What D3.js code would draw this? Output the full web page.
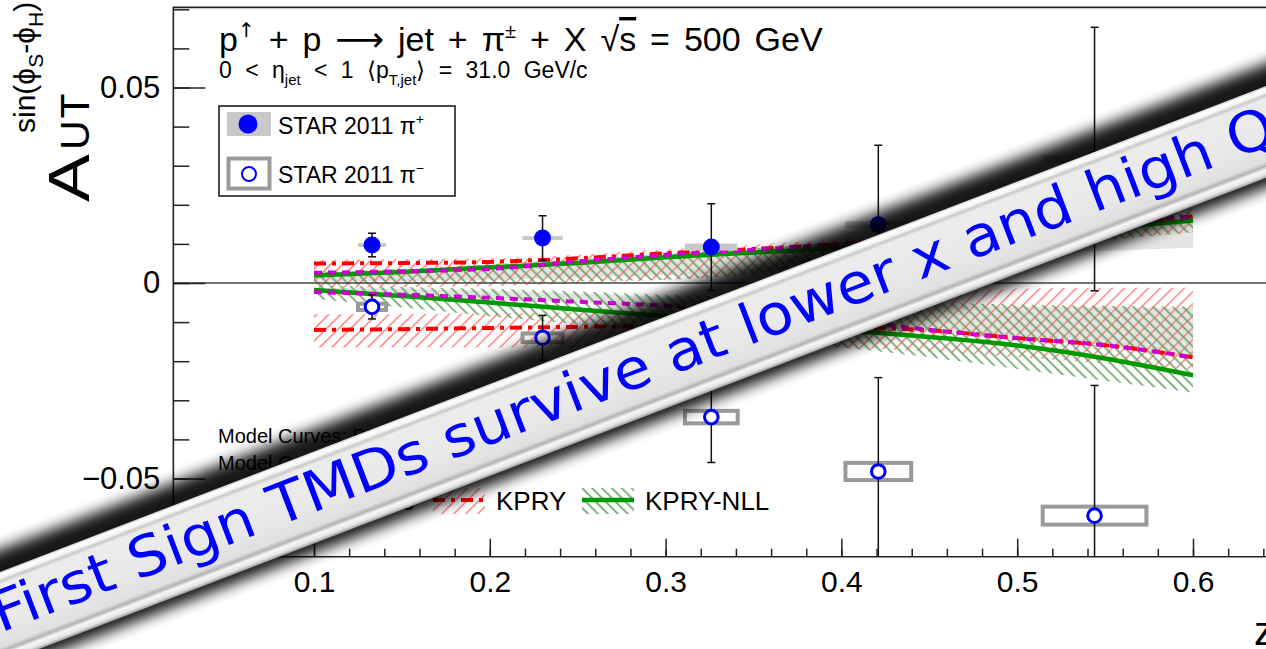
<!DOCTYPE html>
<html><head><meta charset="utf-8">
<script src="https://cdn.jsdelivr.net/npm/d3@7"></script>
<style>
html,body{margin:0;padding:0;background:#fff;overflow:hidden}
svg{display:block}
text{font-family:"Liberation Sans",Arial,Helvetica,sans-serif;fill:#000}
</style></head><body>
<svg id="chart" width="1266" height="649"></svg>
<script>
// ---- measured Collins asymmetries (STAR 2011) ----
const zPoints      = [0.133, 0.230, 0.326, 0.421, 0.544];
const aPiPlus      = [0.0097, 0.0115, 0.0092, 0.0149, 0.0317];
const statPiPlus   = [0.0030, 0.0057, 0.0111, 0.0203, 0.0337];
const sysPiPlus    = [0.0005, 0.0005, 0.0009, 0.0009, 0.0010];
const aPiMinus     = [-0.0061, -0.0140, -0.0343, -0.0482, -0.0595];
const statPiMinus  = [0.0031, 0.0057, 0.0116, 0.0240, 0.0333];
const sysPiMinus   = [0.0008, 0.0011, 0.0016, 0.0022, 0.0023];
const zSysHalf     = [0.0080, 0.0114, 0.0150, 0.0187, 0.0295];

// ---- model curves ----
const zModel = [0.10, 0.15, 0.20, 0.25, 0.30, 0.35, 0.40, 0.45, 0.50, 0.55, 0.60];
// KPRY
const kpryPlus      = [0.0050, 0.0051, 0.0054, 0.0063, 0.0076, 0.0087, 0.0100, 0.0115, 0.0132, 0.0150, 0.0170];
const kpryMinus     = [-0.0120, -0.0118, -0.0115, -0.0112, -0.0110, -0.0111, -0.0114, -0.0121, -0.0141, -0.0159, -0.0190];
const kpryPlusHi    = [0.0060, 0.0061, 0.0063, 0.0072, 0.0086, 0.0098, 0.0112, 0.0130, 0.0150, 0.0170, 0.0190];
const kpryPlusLo    = [-0.0012, -0.0010, -0.0008, -0.0001, 0.0008, 0.0022, 0.0040, 0.0062, 0.0088, 0.0110, 0.0130];
const kpryMinusHi   = [-0.0080, -0.0079, -0.0078, -0.0075, -0.0068, -0.0055, -0.0040, -0.0025, -0.0015, -0.0012, -0.0012];
const kpryMinusLo   = [-0.0165, -0.0165, -0.0165, -0.0163, -0.0160, -0.0160, -0.0165, -0.0175, -0.0190, -0.0205, -0.0220];
// KPRY-NLL
const nllPlus       = [0.0019, 0.0028, 0.0040, 0.0051, 0.0066, 0.0078, 0.0090, 0.0105, 0.0120, 0.0140, 0.0160];
const nllMinus      = [-0.0018, -0.0033, -0.0050, -0.0068, -0.0085, -0.0102, -0.0120, -0.0138, -0.0160, -0.0193, -0.0236];
const nllPlusHi     = [0.0027, 0.0036, 0.0048, 0.0060, 0.0073, 0.0088, 0.0104, 0.0120, 0.0140, 0.0160, 0.0180];
const nllPlusLo     = [-0.0005, -0.0003, 0.0000, 0.0004, 0.0008, 0.0022, 0.0040, 0.0062, 0.0090, 0.0110, 0.0130];
const nllMinusHi    = [-0.0005, -0.0010, -0.0015, -0.0022, -0.0030, -0.0038, -0.0045, -0.0050, -0.0055, -0.0058, -0.0060];
const nllMinusLo    = [-0.0040, -0.0062, -0.0085, -0.0105, -0.0125, -0.0145, -0.0165, -0.0190, -0.0220, -0.0250, -0.0280];
// DMP+2013
const dmpPlus       = [0.0026, 0.0030, 0.0036, 0.0055, 0.0072, 0.0085, 0.0100, 0.0115, 0.0135, 0.0152, 0.0170];
const dmpMinus      = [-0.0023, -0.0030, -0.0038, -0.0048, -0.0058, -0.0075, -0.0095, -0.0120, -0.0141, -0.0159, -0.0190];
const dmpPlusHi     = [0.0029, 0.0033, 0.0039, 0.0058, 0.0075, 0.0088, 0.0103, 0.0118, 0.0138, 0.0155, 0.0173];
const dmpPlusLo     = [0.0003, 0.0005, 0.0008, 0.0014, 0.0020, 0.0030, 0.0040, 0.0055, 0.0072, 0.0082, 0.0090];
const dmpMinusHi    = [-0.0012, -0.0015, -0.0020, -0.0027, -0.0035, -0.0042, -0.0050, -0.0056, -0.0060, -0.0062, -0.0064];
const dmpMinusLo    = [-0.0026, -0.0033, -0.0041, -0.0051, -0.0061, -0.0078, -0.0098, -0.0123, -0.0144, -0.0162, -0.0193];

// ---- axis ticks ----
const xTickValues = [0.1, 0.2, 0.3, 0.4, 0.5, 0.6];
const xTickLabels = ["0.1", "0.2", "0.3", "0.4", "0.5", "0.6"];
const yTickValues = [-0.05, 0, 0.05];
const yTickLabels = ["\u22120.05", "0", "0.05"];

const svg = d3.select("#chart");
const x = d3.scaleLinear().domain([0.1, 0.6]).range([314, 1193]);
const y = d3.scaleLinear().domain([-0.05, 0.05]).range([478.5, 87.5]);
const xL = x(0.02), xR = x(0.72), yT = y(0.0705), yB = y(-0.07);

const defs = svg.append("defs");
defs.append("clipPath").attr("id", "plotClip").append("rect")
  .attr("x", xL).attr("y", yT).attr("width", xR - xL).attr("height", yB - yT);

function hatch(id, angle, color, gap, width) {
  const p = defs.append("pattern").attr("id", id).attr("patternUnits", "userSpaceOnUse")
    .attr("width", gap).attr("height", gap).attr("patternTransform", `rotate(${angle})`);
  p.append("line").attr("x1", gap / 2).attr("y1", 0).attr("x2", gap / 2).attr("y2", gap)
    .attr("stroke", color).attr("stroke-width", width);
}
hatch("hatchRed", 45, "#ff6b6b", 8.5, 1.3);
hatch("hatchGreen", -45, "#5f9f5f", 7, 1.6);

const bandData = (lo, hi) => zModel.map((z, i) => ({ z, lo: lo[i], hi: hi[i] }));
const lineData = v => zModel.map((z, i) => ({ z, v: v[i] }));
const area = d3.area().x(d => x(d.z)).y0(d => y(d.lo)).y1(d => y(d.hi)).curve(d3.curveMonotoneX);
const line = d3.line().x(d => x(d.z)).y(d => y(d.v)).curve(d3.curveMonotoneX);

const plot = svg.append("g").attr("clip-path", "url(#plotClip)");

// uncertainty bands
[[dmpPlusLo, dmpPlusHi], [dmpMinusLo, dmpMinusHi]].forEach(([lo, hi]) =>
  plot.append("path").attr("d", area(bandData(lo, hi))).attr("fill", "#e4e4e4"));
[[kpryPlusLo, kpryPlusHi], [kpryMinusLo, kpryMinusHi]].forEach(([lo, hi]) =>
  plot.append("path").attr("d", area(bandData(lo, hi))).attr("fill", "url(#hatchRed)"));
[[nllPlusLo, nllPlusHi], [nllMinusLo, nllMinusHi]].forEach(([lo, hi]) =>
  plot.append("path").attr("d", area(bandData(lo, hi))).attr("fill", "url(#hatchGreen)"));

// zero line
plot.append("line").attr("x1", xL).attr("x2", xR).attr("y1", y(0)).attr("y2", y(0))
  .attr("stroke", "#444").attr("stroke-width", 1.5);

// central curves
[kpryPlus, kpryMinus].forEach(v => plot.append("path").attr("d", line(lineData(v)))
  .attr("fill", "none").attr("stroke", "#ff0000").attr("stroke-width", 4).attr("stroke-dasharray", "12,6,4,6"));
[nllPlus, nllMinus].forEach(v => plot.append("path").attr("d", line(lineData(v)))
  .attr("fill", "none").attr("stroke", "#009900").attr("stroke-width", 4.5));
[dmpPlus, dmpMinus].forEach(v => plot.append("path").attr("d", line(lineData(v)))
  .attr("fill", "none").attr("stroke", "#cc00cc").attr("stroke-width", 4).attr("stroke-dasharray", "8,6"));

// systematic boxes
zPoints.forEach((z, i) => {
  plot.append("rect").attr("x", x(z - zSysHalf[i])).attr("width", x(z + zSysHalf[i]) - x(z - zSysHalf[i]))
    .attr("y", y(aPiPlus[i] + sysPiPlus[i])).attr("height", Math.max(3, y(aPiPlus[i] - sysPiPlus[i]) - y(aPiPlus[i] + sysPiPlus[i])))
    .attr("fill", "#c8c8c8");
  plot.append("rect").attr("x", x(z - zSysHalf[i])).attr("width", x(z + zSysHalf[i]) - x(z - zSysHalf[i]))
    .attr("y", y(aPiMinus[i] + sysPiMinus[i])).attr("height", y(aPiMinus[i] - sysPiMinus[i]) - y(aPiMinus[i] + sysPiMinus[i]))
    .attr("fill", "none").attr("stroke", "#9a9a9a").attr("stroke-width", 4);
});

// statistical error bars
function errBar(z, a, e) {
  const cx = x(z), y1 = y(a + e), y2 = y(a - e);
  plot.append("line").attr("x1", cx).attr("x2", cx).attr("y1", y1).attr("y2", y2).attr("stroke", "#111").attr("stroke-width", 1.5);
  [y1, y2].forEach(yy => plot.append("line").attr("x1", cx - 4).attr("x2", cx + 4).attr("y1", yy).attr("y2", yy)
    .attr("stroke", "#111").attr("stroke-width", 1.5));
}
zPoints.forEach((z, i) => { errBar(z, aPiPlus[i], statPiPlus[i]); errBar(z, aPiMinus[i], statPiMinus[i]); });

// markers
plot.selectAll("circle.plus").data(zPoints).join("circle").attr("class", "plus")
  .attr("cx", d => x(d)).attr("cy", (d, i) => y(aPiPlus[i])).attr("r", 8.5).attr("fill", "#0000ff");
plot.selectAll("circle.minus").data(zPoints).join("circle").attr("class", "minus")
  .attr("cx", d => x(d)).attr("cy", (d, i) => y(aPiMinus[i])).attr("r", 6.8)
  .attr("fill", "#fff").attr("stroke", "#0000ff").attr("stroke-width", 3);

// axes
const yMinor = d3.range(-7, 8).map(k => k / 100);
const xMinor = d3.range(1, 36).map(k => k * 0.02);
const styleAxis = g => { g.select(".domain").remove(); g.selectAll("line").attr("stroke", "#222").attr("stroke-width", 1.5); };
svg.append("g").attr("transform", `translate(${xL},0)`)
  .call(d3.axisLeft(y).tickValues(yMinor).tickSize(-16).tickFormat("")).call(styleAxis);
const yAx = svg.append("g").attr("transform", `translate(${xL},0)`)
  .call(d3.axisLeft(y).tickValues(yTickValues).tickSizeInner(-32).tickSizeOuter(0).tickPadding(13)
    .tickFormat((d, i) => yTickLabels[i])).call(styleAxis);
yAx.selectAll("text").attr("font-size", 31).attr("fill", "#000").attr("font-family", "Liberation Sans, Arial, sans-serif");
svg.append("g").attr("transform", `translate(0,${yB})`)
  .call(d3.axisBottom(x).tickValues(xMinor).tickSize(-8).tickFormat("")).call(styleAxis);
const xAx = svg.append("g").attr("transform", `translate(0,${yB})`)
  .call(d3.axisBottom(x).tickValues(xTickValues).tickSizeInner(-18).tickSizeOuter(0)
    .tickFormat((d, i) => xTickLabels[i])).call(styleAxis);
xAx.selectAll("text").attr("font-size", 30).attr("y", 35).attr("dy", 0).attr("fill", "#000")
  .attr("font-family", "Liberation Sans, Arial, sans-serif");

// frame
svg.append("path").attr("d", `M${xR},${yT}H${xL}V${yB}H${xR}`).attr("fill", "none")
  .attr("stroke", "#222").attr("stroke-width", 1.6);

// axis titles
svg.append("text").attr("x", 1254).attr("y", 645).attr("font-size", 40).text("z");
const yt = svg.append("g").attr("transform", "translate(89,202) rotate(-90)");
yt.append("text").attr("x", 0).attr("y", 0).attr("font-size", 58)
  .attr("textLength", 48).attr("lengthAdjust", "spacingAndGlyphs").text("A");
yt.append("text").attr("x", 52).attr("y", 0).attr("font-size", 41).attr("letter-spacing", 2).text("UT");
const sup = yt.append("text").attr("x", 69).attr("y", -54).attr("font-size", 30);
sup.append("tspan").text("sin(\u03d5");
sup.append("tspan").attr("font-size", 21).attr("dy", 8).text("S");
sup.append("tspan").attr("dy", -8).text("-\u03d5");
sup.append("tspan").attr("font-size", 21).attr("dy", 8).text("H");
sup.append("tspan").attr("dy", -8).text(")");

// reaction title
const title = svg.append("text").attr("x", 219).attr("y", 51).attr("font-size", 34)
  .attr("word-spacing", 4.5);
title.append("tspan").text("p");
title.append("tspan").attr("font-size", 20).attr("dy", -14).style("font-family", "DejaVu Sans").text("\u2191");
title.append("tspan").attr("dy", 14).text(" + p ");
title.append("tspan").style("font-family", "DejaVu Sans").text("\u27f6");
title.append("tspan").text(" jet + \u03c0");
title.append("tspan").attr("font-size", 20).attr("dy", -13).text("\u00b1");
title.append("tspan").attr("dy", 13).text(" + X  \u221a");
title.append("tspan").style("text-decoration", "overline").text("s");
title.append("tspan").text(" = 500 GeV");

const sub = svg.append("text").attr("x", 219).attr("y", 78).attr("font-size", 23).attr("word-spacing", 7);
sub.append("tspan").text("0 < \u03b7");
sub.append("tspan").attr("font-size", 15).attr("dy", 7).text("jet");
sub.append("tspan").attr("dy", -7).text(" < 1   \u27e8p");
sub.append("tspan").attr("font-size", 15).attr("dy", 7).text("T,jet");
sub.append("tspan").attr("dy", -7).text("\u27e9 = 31.0 GeV/c");

// data legend
svg.append("rect").attr("x", 219).attr("y", 106).attr("width", 236).attr("height", 90)
  .attr("fill", "#fff").attr("stroke", "#111").attr("stroke-width", 1.5);
svg.append("rect").attr("x", 227).attr("y", 112).attr("width", 44).attr("height", 24).attr("fill", "#c8c8c8");
svg.append("circle").attr("cx", 248).attr("cy", 124).attr("r", 9.5).attr("fill", "#0000ff");
svg.append("rect").attr("x", 228.5).attr("y", 158.5).attr("width", 41).attr("height", 30)
  .attr("fill", "#fff").attr("stroke", "#9a9a9a").attr("stroke-width", 4);
svg.append("circle").attr("cx", 249).attr("cy", 174).attr("r", 7).attr("fill", "#fff")
  .attr("stroke", "#0000ff").attr("stroke-width", 2);
[["+", 134], ["\u2212", 183]].forEach(([s, yy]) => {
  const t = svg.append("text").attr("x", 278).attr("y", yy).attr("font-size", 23);
  t.append("tspan").text("STAR 2011 \u03c0");
  t.append("tspan").attr("font-size", 14).attr("dy", -10).text(s);
});

// model legend
svg.append("text").attr("x", 218).attr("y", 443).attr("font-size", 20).attr("fill", "#222")
  .text("Model Curves: D'Alesio, Murgia, Pisano");
svg.append("text").attr("x", 218).attr("y", 470).attr("font-size", 20).attr("fill", "#222")
  .text("Model Curves: Kang et al.");
function legendSwatch(x0, fill, stroke, dash, w) {
  svg.append("rect").attr("x", x0).attr("y", 488).attr("width", 52).attr("height", 26).attr("fill", fill);
  svg.append("line").attr("x1", x0).attr("x2", x0 + 52).attr("y1", 500).attr("y2", 500)
    .attr("stroke", stroke).attr("stroke-width", w).attr("stroke-dasharray", dash);
}
legendSwatch(224, "#e4e4e4", "#cc00cc", "8,6", 4);
svg.append("text").attr("x", 284).attr("y", 510).attr("font-size", 26).text("DMP+2013");
legendSwatch(433, "url(#hatchRed)", "#ff0000", "12,6,4,6", 4);
svg.append("text").attr("x", 496).attr("y", 510).attr("font-size", 26).text("KPRY");
legendSwatch(582, "url(#hatchGreen)", "#009900", null, 4.5);
svg.append("text").attr("x", 645).attr("y", 510).attr("font-size", 26).text("KPRY-NLL");

// diagonal banner
const sh = defs.append("filter").attr("id", "bannerShadow").attr("x", "-10%").attr("y", "-100%")
  .attr("width", "120%").attr("height", "300%");
sh.append("feGaussianBlur").attr("stdDeviation", 7);
const grad = defs.append("linearGradient").attr("id", "bannerFill").attr("x1", 0).attr("y1", 0).attr("x2", 0).attr("y2", 1);
[[0, "#d0d0d0"], [0.03, "#ffffff"], [0.07, "#f4f4f4"], [0.10, "#c9c9c9"], [0.14, "#ececec"],
 [0.55, "#e9e9e9"], [0.82, "#e0e0e0"], [0.87, "#b3b3b3"], [0.91, "#f7f7f7"], [0.96, "#e4e4e4"], [1, "#9a9a9a"]]
  .forEach(([o, c]) => grad.append("stop").attr("offset", o).attr("stop-color", c));

const banner = svg.append("g").attr("transform", "translate(633,375) rotate(-21)");
banner.append("rect").attr("x", -900).attr("y", -64).attr("width", 1800).attr("height", 116)
  .attr("fill", "#000").attr("opacity", 0.9).attr("filter", "url(#bannerShadow)");
banner.append("rect").attr("x", -900).attr("y", -43).attr("width", 1800).attr("height", 86)
  .attr("fill", "url(#bannerFill)");
banner.append("text").attr("x", -683).attr("y", 14).attr("font-size", 56)
  .attr("textLength", 1370).attr("lengthAdjust", "spacingAndGlyphs")
  .style("font-family", "'DejaVu Sans',sans-serif").style("fill", "#0000ff")
  .text("First Sign TMDs survive at lower x and high Q");
banner.append("text").attr("x", 692).attr("y", -12).attr("font-size", 32)
  .style("font-family", "'DejaVu Sans',sans-serif").style("fill", "#0000ff")
  .text("2");
</script>
</body></html>
